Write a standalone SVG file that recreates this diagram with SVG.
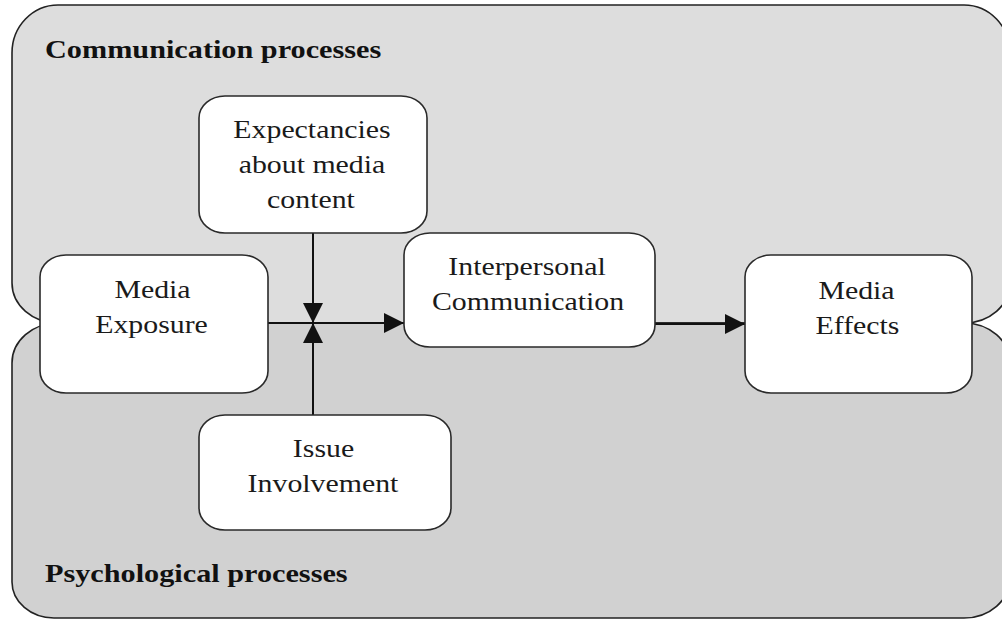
<svg xmlns="http://www.w3.org/2000/svg" width="1002" height="619" viewBox="0 0 1002 619">
  <style>
    .region { stroke: #222; stroke-width: 1.6; }
    .upper { fill: #dddddd; }
    .lower { fill: #d1d1d1; }
    .box { fill: #ffffff; stroke: #2a2a2a; stroke-width: 1.6; }
    .edge { fill: none; stroke: #111; stroke-width: 2; }
    .label { font-family: "Liberation Serif", "Times New Roman", serif; font-size: 25.5px; fill: #1a1a1a; text-anchor: middle; }
    .title { font-family: "Liberation Serif", "Times New Roman", serif; font-size: 25px; font-weight: bold; fill: #111; }
  </style>
  <defs>
    <marker id="arrow" markerUnits="userSpaceOnUse" viewBox="0 0 20 20" markerWidth="20" markerHeight="20" refX="20" refY="10" orient="auto">
      <path d="M0,0 L20,10 L0,20 Z" fill="#111"/>
    </marker>
  </defs>

  <!-- background regions -->
  <g id="regions">
    <path id="communication-region" class="region upper"
          d="M58,5 H964 A46,48 0 0 1 1010,53 V283 A46,40 0 0 1 964,323 H58 A46,40 0 0 1 12,283 V53 A46,48 0 0 1 58,5 Z"/>
    <path id="psychological-region" class="region lower"
          d="M58,323 H964 A46,40 0 0 1 1010,363 V578 A46,40 0 0 1 964,618 H54 A42,36 0 0 1 12,582 V363 A46,40 0 0 1 58,323 Z"/>
    <text class="title" transform="translate(45,58) scale(1.21,1)">Communication processes</text>
    <text class="title" transform="translate(45,582) scale(1.21,1)">Psychological processes</text>
  </g>

  <!-- connectors -->
  <g id="connectors">
    <line class="edge" x1="268" y1="323" x2="404" y2="323" marker-end="url(#arrow)"/>
    <line class="edge" x1="313" y1="233" x2="313" y2="323" marker-end="url(#arrow)"/>
    <line class="edge" x1="313" y1="415" x2="313" y2="323" marker-end="url(#arrow)"/>
    <line class="edge" x1="655" y1="324" x2="745" y2="324" marker-end="url(#arrow)"/>
  </g>

  <!-- nodes -->
  <g id="expectancies">
    <rect class="box" x="199" y="96" width="228" height="137" rx="26" ry="22"/>
    <text class="label" transform="translate(312,138) scale(1.17,1)">Expectancies</text>
    <text class="label" transform="translate(312,173) scale(1.17,1)">about media</text>
    <text class="label" transform="translate(311,208) scale(1.17,1)">content</text>
  </g>

  <g id="media-exposure">
    <rect class="box" x="40" y="255" width="228" height="138" rx="26" ry="22"/>
    <text class="label" transform="translate(152.5,298) scale(1.17,1)">Media</text>
    <text class="label" transform="translate(151.5,333) scale(1.17,1)">Exposure</text>
  </g>

  <g id="interpersonal-communication">
    <rect class="box" x="404" y="233" width="251" height="114" rx="26" ry="22"/>
    <text class="label" transform="translate(527,275) scale(1.17,1)">Interpersonal</text>
    <text class="label" transform="translate(528,310) scale(1.17,1)">Communication</text>
  </g>

  <g id="media-effects">
    <rect class="box" x="745" y="255" width="227" height="138" rx="26" ry="22"/>
    <text class="label" transform="translate(856.5,299) scale(1.17,1)">Media</text>
    <text class="label" transform="translate(857.5,334) scale(1.17,1)">Effects</text>
  </g>

  <g id="issue-involvement">
    <rect class="box" x="199" y="415" width="252" height="115" rx="26" ry="22"/>
    <text class="label" transform="translate(323.5,457) scale(1.17,1)">Issue</text>
    <text class="label" transform="translate(323,492) scale(1.17,1)">Involvement</text>
  </g>
</svg>
